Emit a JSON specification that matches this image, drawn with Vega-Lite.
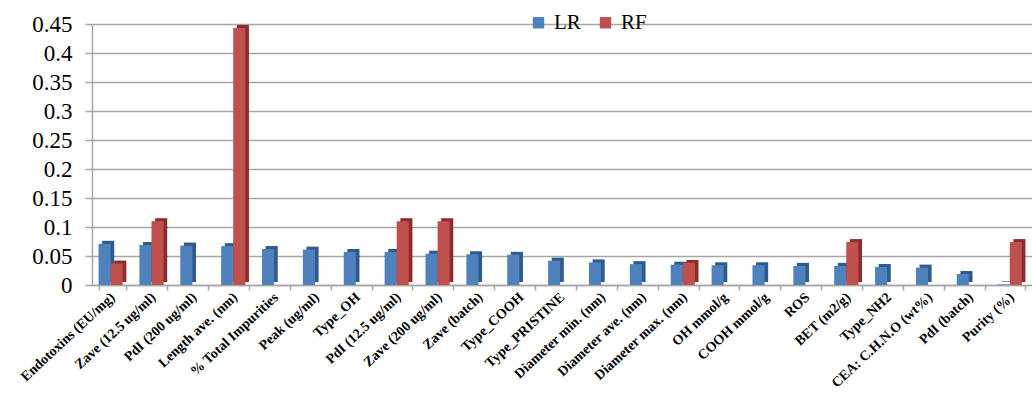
{
  "$schema": "https://vega.github.io/schema/vega-lite/v6.json",
  "width": 940,
  "height": 261,
  "autosize": {"type": "none"},
  "padding": {"left": 92, "top": 24, "right": 0, "bottom": 119},
  "background": "white",
  "config": {
    "view": {"stroke": null},
    "font": "Liberation Serif"
  },
  "data": {
    "values": [
      {"param": "Endotoxins (EU/mg)", "series": "LR", "value": 0.071},
      {"param": "Endotoxins (EU/mg)", "series": "RF", "value": 0.037},
      {"param": "Zave (12.5 ug/ml)", "series": "LR", "value": 0.069},
      {"param": "Zave (12.5 ug/ml)", "series": "RF", "value": 0.11},
      {"param": "PdI  (200 ug/ml)", "series": "LR", "value": 0.068},
      {"param": "PdI  (200 ug/ml)", "series": "RF", "value": 0},
      {"param": "Length ave. (nm)", "series": "LR", "value": 0.067},
      {"param": "Length ave. (nm)", "series": "RF", "value": 0.443},
      {"param": "% Total Impurities", "series": "LR", "value": 0.062},
      {"param": "% Total Impurities", "series": "RF", "value": 0},
      {"param": "Peak (ug/ml)", "series": "LR", "value": 0.061},
      {"param": "Peak (ug/ml)", "series": "RF", "value": 0},
      {"param": "Type_OH", "series": "LR", "value": 0.057},
      {"param": "Type_OH", "series": "RF", "value": 0},
      {"param": "PdI  (12.5 ug/ml)", "series": "LR", "value": 0.057},
      {"param": "PdI  (12.5 ug/ml)", "series": "RF", "value": 0.11},
      {"param": "Zave  (200 ug/ml)", "series": "LR", "value": 0.054},
      {"param": "Zave  (200 ug/ml)", "series": "RF", "value": 0.11},
      {"param": "Zave (batch)", "series": "LR", "value": 0.053},
      {"param": "Zave (batch)", "series": "RF", "value": 0},
      {"param": "Type_COOH", "series": "LR", "value": 0.052},
      {"param": "Type_COOH", "series": "RF", "value": 0},
      {"param": "Type_PRISTINE", "series": "LR", "value": 0.042},
      {"param": "Type_PRISTINE", "series": "RF", "value": 0},
      {"param": "Diameter min. (nm)", "series": "LR", "value": 0.039},
      {"param": "Diameter min. (nm)", "series": "RF", "value": 0},
      {"param": "Diameter ave. (nm)", "series": "LR", "value": 0.036},
      {"param": "Diameter ave. (nm)", "series": "RF", "value": 0},
      {"param": "Diameter max. (nm)", "series": "LR", "value": 0.035},
      {"param": "Diameter max. (nm)", "series": "RF", "value": 0.038},
      {"param": "OH mmol/g", "series": "LR", "value": 0.034},
      {"param": "OH mmol/g", "series": "RF", "value": 0},
      {"param": "COOH mmol/g", "series": "LR", "value": 0.034},
      {"param": "COOH mmol/g", "series": "RF", "value": 0},
      {"param": "ROS", "series": "LR", "value": 0.033},
      {"param": "ROS", "series": "RF", "value": 0},
      {"param": "BET (m2/g)", "series": "LR", "value": 0.033},
      {"param": "BET (m2/g)", "series": "RF", "value": 0.074},
      {"param": "Type_NH2", "series": "LR", "value": 0.031},
      {"param": "Type_NH2", "series": "RF", "value": 0},
      {"param": "CEA:  C.H.N.O (wt%)", "series": "LR", "value": 0.03},
      {"param": "CEA:  C.H.N.O (wt%)", "series": "RF", "value": 0},
      {"param": "PdI (batch)", "series": "LR", "value": 0.019},
      {"param": "PdI (batch)", "series": "RF", "value": 0},
      {"param": "Purity (%)", "series": "LR", "value": 0.001},
      {"param": "Purity (%)", "series": "RF", "value": 0.074}
    ]
  },
  "encoding": {
    "x": {
      "field": "param",
      "type": "nominal",
      "sort": null,
      "scale": {"paddingInner": 0.32, "paddingOuter": 0.16},
      "axis": {
        "title": null,
        "labelAngle": -43,
        "labelAlign": "right",
        "labelBaseline": "middle",
        "labelFont": "Liberation Serif",
        "labelFontWeight": "bold",
        "labelFontSize": 14,
        "labelColor": "#000000",
        "labelPadding": 5,
        "labelOverlap": false,
        "tickBand": "extent",
        "tickColor": "#a6a6a6",
        "tickSize": 5,
        "tickWidth": 1.5,
        "domainColor": "#a6a6a6",
        "domainWidth": 1.5,
        "grid": false
      }
    },
    "y": {
      "field": "value",
      "type": "quantitative",
      "scale": {"domain": [0, 0.45], "nice": false, "zero": true},
      "axis": {
        "title": null,
        "values": [0, 0.05, 0.1, 0.15, 0.2, 0.25, 0.3, 0.35, 0.4, 0.45],
        "format": ".2~f",
        "labelFont": "Liberation Serif",
        "labelFontSize": 23,
        "labelColor": "#000000",
        "labelPadding": 13,
        "tickColor": "#a6a6a6",
        "tickSize": 7,
        "tickWidth": 1.5,
        "domainColor": "#a6a6a6",
        "domainWidth": 1.5,
        "grid": true,
        "gridColor": "#a6a6a6",
        "gridWidth": 1.5
      }
    }
  },
  "layer": [
    {
      "mark": {"type": "bar", "yOffset": -3},
      "encoding": {
        "xOffset": {"field": "series", "type": "nominal", "sort": ["LR", "RF"], "scale": {"paddingOuter": 0.15, "paddingInner": 0, "align": 1}},
        "color": {
          "field": "series",
          "type": "nominal",
          "scale": {"domain": ["LR", "RF"], "range": ["#2f5a8e", "#8c2d2a"]},
          "legend": null
        }
      }
    },
    {
      "mark": {"type": "bar"},
      "encoding": {
        "xOffset": {"field": "series", "type": "nominal", "sort": ["LR", "RF"], "scale": {"paddingOuter": 0.15, "paddingInner": 0, "align": 0}},
        "color": {
          "field": "series",
          "type": "nominal",
          "scale": {"domain": ["LR", "RF"], "range": ["#4f81bd", "#c0504d"]},
          "legend": {
            "title": null,
            "orient": "none",
            "legendX": 436,
            "legendY": -12,
            "direction": "horizontal",
            "symbolType": "square",
            "symbolSize": 130,
            "symbolStrokeWidth": 0,
            "labelFont": "Liberation Serif",
            "labelFontSize": 21,
            "labelColor": "#000000",
            "columnPadding": 14,
            "labelOffset": 5
          }
        }
      }
    }
  ],
  "resolve": {"scale": {"color": "independent", "xOffset": "independent"}}
}
